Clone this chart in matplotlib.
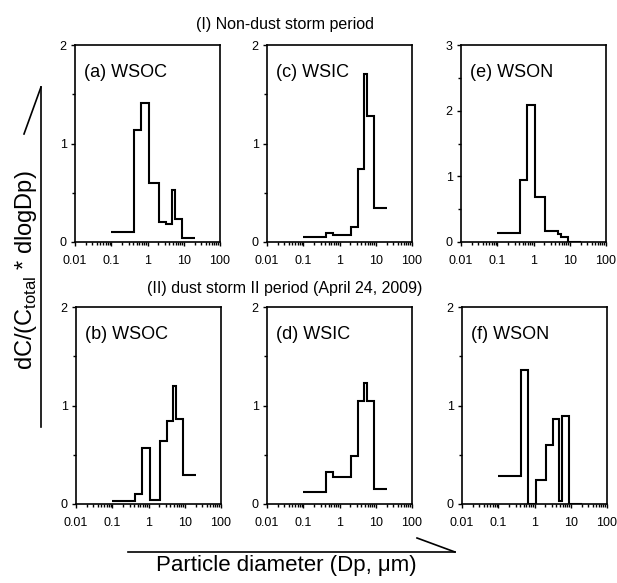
import matplotlib
matplotlib.use("Agg")
import matplotlib.pyplot as plt
from matplotlib.lines import Line2D
from matplotlib.ticker import LogLocator, NullFormatter

plt.rcParams["font.family"] = ["Liberation Sans", "DejaVu Sans"]

# impactor stage edges (um)
edges = [0.1, 0.43, 0.65, 1.1, 2.1, 3.3, 4.7, 5.8, 9.0, 20]

# (I) non-dust storm period
wsoc_I = [0.10, 1.14, 1.41, 0.60, 0.20, 0.18, 0.53, 0.23, 0.044]
wsic_I = [0.05, 0.09, 0.07, 0.07, 0.15, 0.74, 1.71, 1.28, 0.35]
wson_I = [0.13, 0.94, 2.08, 0.69, 0.17, 0.17, 0.12, 0.07, 0.0]

# (II) dust storm II period
wsoc_II = [0.03, 0.10, 0.57, 0.04, 0.64, 0.84, 1.20, 0.86, 0.29]
wsic_II = [0.12, 0.32, 0.27, 0.27, 0.49, 1.05, 1.23, 1.05, 0.15]
wson_II = [0.28, 1.36, 0.0, 0.24, 0.60, 0.86, 0.03, 0.89, 0.0]

panels = [
    ("(a) WSOC", wsoc_I, 2, 75, 45),
    ("(c) WSIC", wsic_I, 2, 267, 45),
    ("(e) WSON", wson_I, 3, 461, 45),
    ("(b) WSOC", wsoc_II, 2, 76, 307),
    ("(d) WSIC", wsic_II, 2, 267, 307),
    ("(f) WSON", wson_II, 2, 462, 307),
]

W, H = 617, 583
fig = plt.figure(figsize=(W / 100, H / 100), dpi=100)

for label, vals, ymax, px, py in panels:
    ax = fig.add_axes([px / W, (H - py - 197) / H, 145 / W, 197 / H])
    ax.stairs(vals, edges, baseline=None, color="k", lw=1.5)
    ax.set_xscale("log")
    ax.set_xlim(0.01, 100)
    ax.set_ylim(0, ymax)
    ax.set_xticks([0.01, 0.1, 1, 10, 100])
    ax.set_xticklabels(["0.01", "0.1", "1", "10", "100"])
    ax.xaxis.set_minor_locator(LogLocator(base=10, subs=range(2, 10), numticks=20))
    ax.xaxis.set_minor_formatter(NullFormatter())
    ax.set_yticks(range(ymax + 1))
    ax.set_yticks([i + 0.5 for i in range(ymax)], minor=True)
    ax.tick_params(which="both", direction="out", labelsize=9, width=1)
    ax.tick_params(axis="x", pad=6)
    ax.tick_params(axis="y", pad=3)
    ax.tick_params(which="major", length=3)
    ax.tick_params(which="minor", length=2)
    for s in ax.spines.values():
        s.set_linewidth(1.2)
    ax.text(0.06, 0.86, label, transform=ax.transAxes, fontsize=13, va="center")

fig.text(285 / W, 1 - 24 / H, "(I) Non-dust storm period", ha="center", va="center", fontsize=11.5)
fig.text(285 / W, 1 - 289 / H, "(II) dust storm II period (April 24, 2009)", ha="center", va="center", fontsize=11.5)

fig.text(26 / W, 1 - 270 / H, "dC/(C$_{\\mathregular{total}}$ * dlogDp)", rotation=90,
         ha="center", va="center", fontsize=17)
fig.text(286 / W, 1 - 565 / H, "Particle diameter (Dp, \u03bcm)", ha="center", va="center", fontsize=16)

# decorative bracket lines
fig.add_artist(Line2D([41 / W, 41 / W], [1 - 87 / H, 1 - 427 / H], color="k", lw=1.2))
fig.add_artist(Line2D([24 / W, 41 / W], [1 - 134 / H, 1 - 87 / H], color="k", lw=1.2))
fig.add_artist(Line2D([128 / W, 455 / W], [1 - 552 / H, 1 - 552 / H], color="k", lw=1.2))
fig.add_artist(Line2D([417 / W, 455 / W], [1 - 538 / H, 1 - 552 / H], color="k", lw=1.2))

fig.savefig("out.png", dpi=100)
